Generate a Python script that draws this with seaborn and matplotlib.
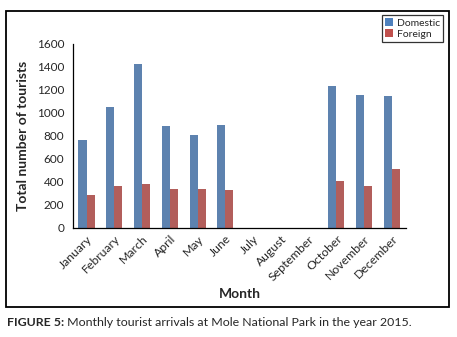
import matplotlib
matplotlib.use("Agg")
import matplotlib.pyplot as plt
import seaborn as sns
import pandas as pd
import numpy as np
from matplotlib.patches import Rectangle, Patch

months = ["January", "February", "March", "April", "May", "June",
          "July", "August", "September", "October", "November", "December"]
domestic = [765, 1050, 1425, 885, 810, 895, 0, 0, 0, 1235, 1150, 1145]
foreign = [285, 360, 380, 340, 340, 325, 0, 0, 0, 410, 360, 510]
series = ["Domestic", "Foreign"]
colors = ["#4F81BD", "#C0504D"]
yticks = [0, 200, 400, 600, 800, 1000, 1200, 1400, 1600]

df = pd.DataFrame({
    "Month": months * 2,
    "Tourists": domestic + foreign,
    "Series": [series[0]] * len(months) + [series[1]] * len(months),
})

sns.set_style("white")
plt.rcParams["font.family"] = ["Lato", "DejaVu Sans"]

fig = plt.figure(figsize=(4.57, 3.37), dpi=100)
ax = fig.add_axes([0.159, 0.3243, 0.729, 0.546])

sns.barplot(data=df, x="Month", y="Tourists", hue="Series", order=months,
            hue_order=series, palette=colors, width=0.58, linewidth=0,
            errorbar=None, ax=ax, legend=False)

ax.set_xlim(-0.5, len(months) - 0.5)
ax.set_ylim(0, 1600)
ax.set_yticks(yticks)
ax.set_yticklabels([str(v) for v in yticks], fontsize=8.5)
ax.set_xticks(range(len(months)))
ax.set_xticklabels(months, rotation=45, ha="right", rotation_mode="anchor", fontsize=8.8)
ax.set_xticks(np.arange(-0.5, len(months)), minor=True)
ax.tick_params(axis="x", which="major", length=0, pad=4)
ax.tick_params(axis="x", which="minor", length=4, width=0.9, color="black", direction="out")
ax.tick_params(axis="y", which="major", length=4, width=0.9, color="black", direction="out", pad=2)
for s in ["top", "right"]:
    ax.spines[s].set_visible(False)
for s in ["left", "bottom"]:
    ax.spines[s].set_color("black")
    ax.spines[s].set_linewidth(0.9)

ax.set_xlabel("")
ax.set_ylabel("")
fig.text(0.051, 0.5977, "Total number of tourists", rotation=90, fontsize=10,
         fontweight="bold", ha="center", va="center")
fig.text(0.525, 0.1276, "Month", fontsize=10, fontweight="bold", ha="center", va="center")

# legend
handles = [Patch(facecolor=c, edgecolor="none") for c in colors]
leg = fig.legend(handles, series, loc="upper right", bbox_to_anchor=(0.969, 0.955),
                 fontsize=7.5, frameon=True, fancybox=False, handlelength=0.8,
                 handleheight=0.8, handletextpad=0.3, borderpad=0.3,
                 labelspacing=0.15, borderaxespad=0)
leg.get_frame().set_edgecolor("black")
leg.get_frame().set_linewidth(0.9)

# outer frame
fig.patches.append(Rectangle((0.0131, 0.089), 0.9687, 0.8784, transform=fig.transFigure,
                             fill=False, edgecolor="black", linewidth=1.3))

# caption
t1 = fig.text(0.015, 0.0445, "FIGURE 5:", fontsize=8.9, fontweight="bold", ha="left", va="center")
fig.canvas.draw()
bb = t1.get_window_extent()
x2 = fig.transFigure.inverted().transform((bb.x1, bb.y0))[0]
fig.text(x2, 0.0445, " Monthly tourist arrivals at Mole National Park in the year 2015.",
         fontsize=8.9, ha="left", va="center")

fig.savefig("out.png", dpi=100)
